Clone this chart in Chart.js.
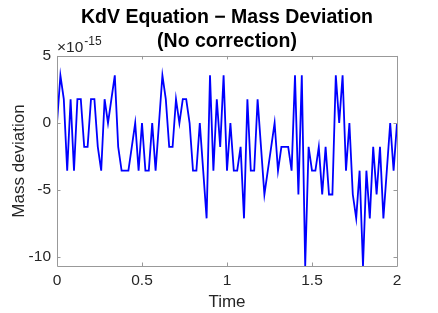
<!DOCTYPE html>
<html>
<head>
<meta charset="utf-8">
<script src="https://cdn.jsdelivr.net/npm/chart.js@4"></script>
<style>
  html, body { margin: 0; padding: 0; background: #fff; }
  #wrap { width: 438px; height: 313px; }
</style>
</head>
<body>
<div id="wrap"><canvas id="massChart" width="438" height="313"></canvas></div>
<script>
// mass deviation, in units of 1e-15, sampled every dt in time
const dt = 0.02;
const massDev = [
  0, 3.553, 1.776, -3.553, 1.776, -3.553, 1.776, 1.776, -1.776, -1.776,
  1.776, 1.776, -1.776, -3.553, 1.776, 0, 1.776, 3.553, -1.776, -3.553,
  -3.553, -3.553, -1.776, 0, -3.553, 0, -3.553, -3.553, 0, -3.553,
  0, 3.553, 1.776, -1.776, -1.776, 1.776, 0, 1.776, 1.776, 0,
  -3.553, -3.553, 0, -3.553, -7.105, 3.553, -3.553, 1.776, -1.776, 3.553,
  -3.553, 0, -3.553, -3.553, -1.776, -7.105, 1.776, -3.553, -3.553, 1.776,
  -1.776, -5.329, -3.553, -1.776, 0, -3.553, -1.776, -1.776, -1.776, -3.553,
  3.553, -5.329, 3.553, -10.658, -1.776, -3.553, -3.553, -1.776, -5.329, -1.776,
  -5.329, -5.329, 3.553, 0, 3.553, -3.553, 0, -5.329, -7.105, -3.553,
  -10.658, -3.553, -7.105, -1.776, -5.329, -1.776, -7.105, -3.553, 0, -3.553,
  0
];
const timeTicks = [0, 0.5, 1, 1.5, 2];
const devTicks = [-10, -5, 0, 5];
const yMin = -10.658, yMax = 5;

const points = massDev.map((v, i) => ({ x: i * dt, y: v }));

const FONT = "'Liberation Sans', Arial, Helvetica, sans-serif";
const AXIS = '#999999';
const TEXT = '#262626';

// box around the axes with inward ticks, plus the x10^-15 multiplier
const matlabBox = {
  id: 'matlabBox',
  afterDraw(chart) {
    const { ctx, chartArea: a, scales } = chart;
    const x = scales.x, y = scales.y;
    ctx.save();
    ctx.strokeStyle = AXIS;
    ctx.lineWidth = 1;
    ctx.beginPath();
    ctx.rect(Math.round(a.left) + 0.5, Math.round(a.top) + 0.5,
             Math.round(a.right - a.left), Math.round(a.bottom - a.top));
    x.ticks.forEach(t => {
      const px = Math.round(x.getPixelForValue(t.value)) + 0.5;
      ctx.moveTo(px, a.bottom); ctx.lineTo(px, a.bottom - 3.5);
      ctx.moveTo(px, a.top); ctx.lineTo(px, a.top + 3.5);
    });
    y.ticks.forEach(t => {
      const py = Math.round(y.getPixelForValue(t.value)) + 0.5;
      ctx.moveTo(a.left, py); ctx.lineTo(a.left + 3.5, py);
      ctx.moveTo(a.right, py); ctx.lineTo(a.right - 3.5, py);
    });
    ctx.stroke();

    ctx.fillStyle = TEXT;
    ctx.textBaseline = 'alphabetic';
    ctx.textAlign = 'left';
    ctx.font = '15.5px ' + FONT;
    ctx.fillText('×10', a.left, a.top - 4);
    const w = ctx.measureText('×10').width;
    ctx.font = '12px ' + FONT;
    ctx.fillText('-15', a.left + w + 1, a.top - 11);
    ctx.restore();
  }
};

new Chart(document.getElementById('massChart'), {
  type: 'line',
  data: {
    datasets: [{
      label: 'Mass deviation',
      data: points,
      borderColor: '#0000ff',
      borderWidth: 1.8,
      pointRadius: 0,
      tension: 0,
      fill: false
    }]
  },
  options: {
    responsive: false,
    animation: false,
    devicePixelRatio: 1,
    layout: { padding: { left: 0, right: 41, top: 0, bottom: 0 } },
    plugins: {
      legend: { display: false },
      tooltip: { enabled: false },
      title: {
        display: true,
        fullSize: false,
        text: ['KdV Equation − Mass Deviation', '(No correction)'],
        color: '#000',
        font: { family: FONT, size: 19.5, weight: 'bold', lineHeight: 1.25 },
        padding: { top: 5, bottom: 2.2 }
      }
    },
    scales: {
      x: {
        type: 'linear',
        min: 0,
        max: 2,
        afterBuildTicks: s => { s.ticks = timeTicks.map(v => ({ value: v })); },
        afterFit: s => { s.height = 47; },
        grid: { display: false, drawTicks: false },
        border: { display: false },
        ticks: {
          color: TEXT,
          font: { family: FONT, size: 15.5 },
          padding: 5,
          maxRotation: 0,
          callback: v => String(v)
        },
        title: {
          display: true,
          text: 'Time',
          color: TEXT,
          font: { family: FONT, size: 17 },
          padding: { top: 0, bottom: 0 }
        }
      },
      y: {
        type: 'linear',
        min: yMin,
        max: yMax,
        afterBuildTicks: s => { s.ticks = devTicks.map(v => ({ value: v })); },
        afterFit: s => { s.width = 57; },
        grid: { display: false, drawTicks: false },
        border: { display: false },
        ticks: {
          color: TEXT,
          font: { family: FONT, size: 15.5 },
          padding: 6,
          callback: v => String(v)
        },
        title: {
          display: true,
          text: 'Mass deviation',
          color: TEXT,
          font: { family: FONT, size: 17 },
          padding: { top: 9, bottom: 0 }
        }
      }
    }
  },
  plugins: [matlabBox]
});
</script>
</body>
</html>
